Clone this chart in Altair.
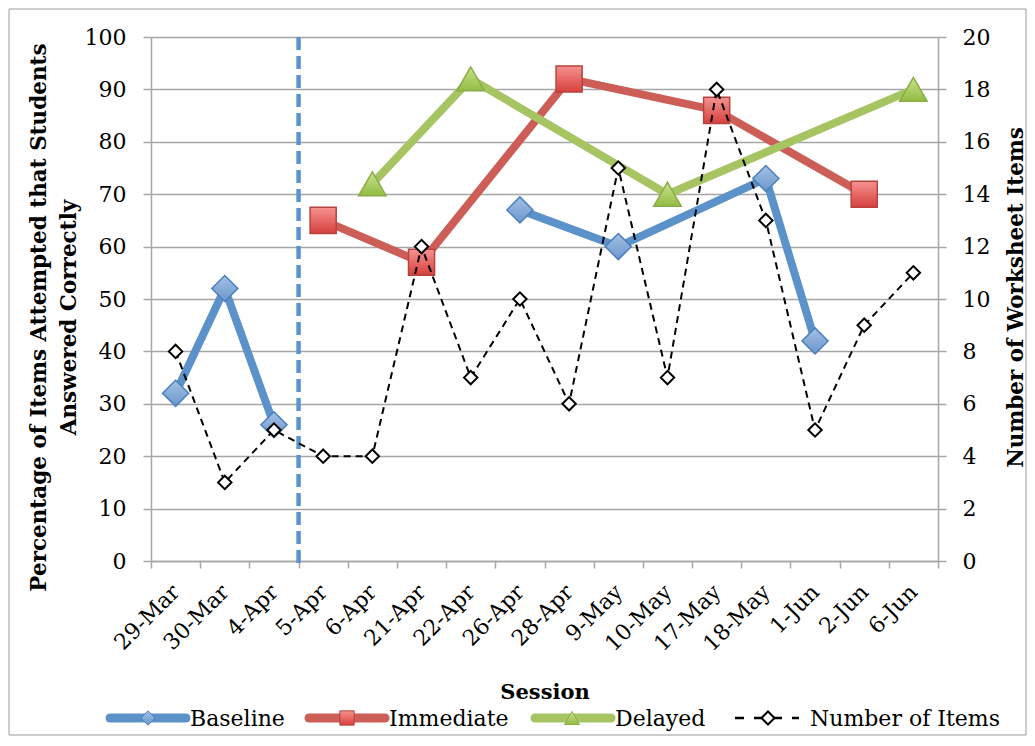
import altair as alt
import pandas as pd

sessions = ["29-Mar", "30-Mar", "4-Apr", "5-Apr", "6-Apr", "21-Apr", "22-Apr", "26-Apr",
            "28-Apr", "9-May", "10-May", "17-May", "18-May", "1-Jun", "2-Jun", "6-Jun"]
baseline = [32, 52, 26, None, None, None, None, 67, None, 60, None, None, 73, 42, None, None]
immediate = [None, None, None, 65, None, 57, None, None, 92, None, None, 86, None, None, 70, None]
delayed = [None, None, None, None, 72, None, 92, None, None, None, 70, None, None, None, None, 90]
items = [8, 3, 5, 4, 4, 12, 7, 10, 6, 15, 7, 18, 13, 5, 9, 11]
phase_change = "5-Apr"
legend_labels = ["Baseline", "Immediate", "Delayed", "Number of Items"]

W, H = 787, 524
FONT = "DejaVu Serif"
GRAY = "#a6a6a6"

change_idx = sessions.index(phase_change)


def series_df(name, vals):
    rows = []
    for i, (s, v) in enumerate(zip(sessions, vals)):
        if v is not None:
            rows.append({"session": s, "series": name, "pct": v,
                         "phase": "pre" if i < change_idx else "post"})
    return pd.DataFrame(rows)


df_base = series_df("Baseline", baseline)
df_imm = series_df("Immediate", immediate)
df_del = series_df("Delayed", delayed)
df_items = pd.DataFrame({"session": sessions, "items": items})

xscale = alt.Scale(type="band", domain=sessions, paddingInner=0, paddingOuter=0)
xaxis = alt.Axis(tickBand="extent", labelAngle=-45, labelAlign="right", labelBaseline="middle",
                 labelFont=FONT, labelFontSize=22, labelColor="black", labelPadding=20,
                 labelOverlap=False, labelBound=False,
                 tickSize=7, tickColor=GRAY, tickWidth=1.5, domainColor=GRAY, domainWidth=1.5,
                 grid=False, title="Session", titleFont=FONT, titleFontSize=21,
                 titleFontWeight="bold", titleColor="black", titleY=131, titleBaseline="middle")


def X(bp=0.5):
    return alt.X("session:N", scale=xscale, axis=xaxis, sort=sessions, bandPosition=bp)


y_left = alt.Y("pct:Q", scale=alt.Scale(domain=[0, 100], nice=False),
               axis=alt.Axis(values=list(range(0, 101, 10)), grid=True, gridColor=GRAY, gridWidth=1.5,
                             domainColor=GRAY, domainWidth=1.5, tickColor=GRAY, tickWidth=1.5, tickSize=8,
                             labelFont=FONT, labelFontSize=22, labelColor="black", labelPadding=17,
                             title=["Percentage of Items Attempted that Students", "Answered Correctly"],
                             titleFont=FONT, titleFontSize=21.5, titleFontWeight="bold", titleColor="black",
                             titleAngle=-90, titleX=-123, titleY=280, titleAlign="center",
                             titleBaseline="top", titleLineHeight=30))

y_right = alt.Y("items:Q", scale=alt.Scale(domain=[0, 20], nice=False),
                axis=alt.Axis(orient="right", values=list(range(0, 21, 2)), grid=False,
                              domainColor=GRAY, domainWidth=1.5, tickColor=GRAY, tickWidth=1.5, tickSize=8,
                              labelFont=FONT, labelFontSize=22, labelColor="black", labelPadding=16,
                              title="Number of Worksheet Items", titleFont=FONT, titleFontSize=21.5,
                              titleFontWeight="bold", titleColor="black", titleAngle=-90,
                              titleX=67, titleY=260, titleAlign="center", titleBaseline="top"))


def grad(top, bottom):
    return alt.LinearGradient(gradient="linear", x1=0, x2=0, y1=0, y2=1,
                              stops=[alt.GradientStop(color=top, offset=0),
                                     alt.GradientStop(color=bottom, offset=1)])


styles = {
    "Baseline": dict(line="#5b92c9", shape="diamond", size=680, top="#a3c0e4", bottom="#6b97cc",
                     stroke="#4b7fbc"),
    "Immediate": dict(line="#cd5d57", shape="square", size=680, top="#f5928f", bottom="#d8403d",
                      stroke="#b5433f"),
    "Delayed": dict(line="#a7c462", shape="triangle-up", size=760, top="#c8e38e", bottom="#93bb43",
                    stroke="#8aae47"),
}

frame = alt.Chart(pd.DataFrame({"k": [0]})).mark_rect(fillOpacity=0, stroke="#9a9a9a", strokeWidth=1).encode(
    x=alt.value(-142), x2=alt.value(W + 88), y=alt.value(-28), y2=alt.value(H + 174))

vrule = alt.Chart(pd.DataFrame({"session": [phase_change]})).mark_rule(
    color="#5b95d0", strokeWidth=4.5, strokeDash=[13, 6]).encode(
    x=X(0), y=alt.value(0), y2=alt.value(H + 2))

layers = [frame, vrule]
for name, d in [("Baseline", df_base), ("Immediate", df_imm), ("Delayed", df_del)]:
    st = styles[name]
    layers.append(alt.Chart(d).mark_line(color=st["line"], strokeWidth=8, strokeJoin="round").encode(
        x=X(), y=y_left, detail="phase:N"))
    layers.append(alt.Chart(d).mark_point(shape=st["shape"], size=st["size"], filled=True,
                                          fill=grad(st["top"], st["bottom"]), stroke=st["stroke"],
                                          strokeWidth=1.5, opacity=1).encode(x=X(), y=y_left))

# legend
LY = 681
leg_pos = {
    "Baseline": (-41, 35, -3, 39),
    "Immediate": (158, 234, 196, 238),
    "Delayed": (384, 460, 421, 464),
    "Number of Items": (584, 648, 617, 659),
}
for name in legend_labels:
    x1, x2, xm, xt = leg_pos[name]
    ld = pd.DataFrame({"label": [name]})
    if name in styles:
        st = styles[name]
        layers.append(alt.Chart(ld).mark_rule(color=st["line"], strokeWidth=9, strokeCap="round").encode(
            x=alt.value(x1), x2=alt.value(x2), y=alt.value(LY)))
        layers.append(alt.Chart(ld).mark_point(shape=st["shape"], size=st["size"] * 0.3, filled=True,
                                               fill=grad(st["top"], st["bottom"]), stroke=st["stroke"],
                                               strokeWidth=1, opacity=1).encode(
            x=alt.value(xm), y=alt.value(LY)))
    else:
        layers.append(alt.Chart(ld).mark_rule(color="black", strokeWidth=2.5, strokeDash=[9, 10]).encode(
            x=alt.value(x1), x2=alt.value(x2), y=alt.value(LY)))
        layers.append(alt.Chart(ld).mark_point(shape="diamond", size=170, filled=True, fill="white",
                                               stroke="black", strokeWidth=2, opacity=1).encode(
            x=alt.value(xm), y=alt.value(LY)))
    layers.append(alt.Chart(ld).mark_text(align="left", baseline="middle", font=FONT, fontSize=22,
                                          color="black").encode(
        x=alt.value(xt), y=alt.value(LY + 1), text="label:N"))

left_group = alt.layer(*layers)

items_line = alt.Chart(df_items).mark_line(color="black", strokeWidth=2, strokeDash=[7, 5]).encode(
    x=X(), y=y_right)
items_pts = alt.Chart(df_items).mark_point(shape="diamond", size=180, filled=True, fill="white",
                                           stroke="black", strokeWidth=2, opacity=1).encode(x=X(), y=y_right)
right_group = alt.layer(items_line, items_pts)

chart = alt.layer(left_group, right_group).resolve_scale(y="independent").properties(
    width=W, height=H, autosize="none",
    padding={"left": 143, "top": 29, "right": 89, "bottom": 175},
    background="white",
).configure_view(stroke=None)

chart.save("out.html", embed_options={"renderer": "svg", "actions": False})
